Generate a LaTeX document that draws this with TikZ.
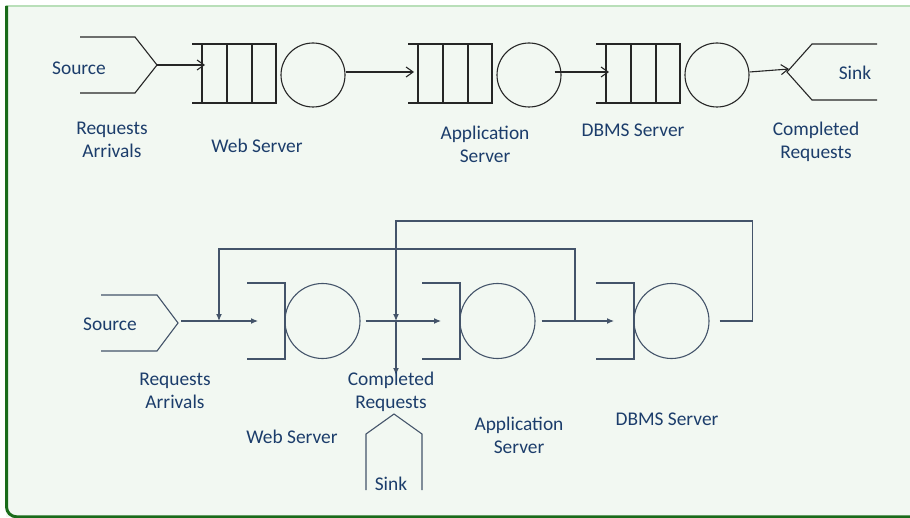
\documentclass[tikz,border=0pt]{standalone}
\usepackage{fontspec}
\setmainfont{Carlito}
\usetikzlibrary{arrows.meta,positioning}
\definecolor{txt}{HTML}{1C3D6B}
\definecolor{line}{HTML}{44546A}
\definecolor{panel}{HTML}{F2F8F2}
\definecolor{frame}{HTML}{1A6B1A}
\definecolor{rim}{HTML}{B9DFB9}

\begin{document}
\begin{tikzpicture}[x=0.5pt,y=-0.5pt,
  lbl/.style={text=txt,font=\fontsize{9.7}{11.5}\selectfont,align=center,inner sep=0pt},
  server/.style 2 args={draw=#1,circle,minimum size=#2,inner sep=0pt,line width=0.55pt},
  flow/.style={draw=#1,line width=0.55pt},
  open/.style={flow=#1,-{Straight Barb[length=3.5pt,width=5pt]}},
  fb/.style={flow=line,-{Latex[length=3.5pt,width=3pt]}},
]
  \useasboundingbox (0,0) rectangle (910,518);
  \fill[panel] (6,6) rectangle (910,517);
  \draw[rim,line width=0.8pt] (6,6) -- (910,6);
  \draw[frame,line width=1.5pt,rounded corners=5pt] (6.5,6) |- (911,516.8);

  % open network
  \draw[flow=black!85] (80,37) -- (135,37) -- (157,65) -- (135,93) -- (80,93);
  \coordinate (src1) at (157,65);
  \node[lbl] (srclbl1) at (79,68) {Source};
  \foreach \q/\n in {192/web,408/app,596/db}{
    \draw[flow=black!85] (\q,44) -| (\q+84,103) -- (\q,103);
    \foreach \v in {10,35,60} \draw[flow=black!85] (\q+\v,44) -- (\q+\v,103);
    \node[server={black!85}{32pt}] (\n1) at (\q+121,75) {};
  }
  \coordinate (webq1) at (205,65);
  \coordinate (appq1) at (414,72);
  \coordinate (dbq1) at (609,72);
  \coordinate (snk1) at (789,69);
  \draw[flow=black!85] (877,44) -- (812,44) -- (787,72) -- (812,100) -- (877,100);
  \draw[open=black!85] (src1) -- (webq1);
  \draw[open=black!85] (web1.east |- appq1) -- (appq1);
  \draw[open=black!85] ([xshift=-3.5pt]app1.east |- dbq1) -- (dbq1);
  \draw[open=black!85] ([yshift=1.5pt]db1.east) -- (snk1);
  \node[lbl] (snklbl1) at (855,73) {Sink};
  \node[lbl] (arr1) at (112,140) {Requests\\Arrivals};
  \node[lbl] (weblbl1) at (257,146) {Web Server};
  \node[lbl] (applbl1) at (485,144) {Application\\Server};
  \node[lbl] (dblbl1) at (633,130) {DBMS Server};
  \node[lbl] (done1) at (816,142) {Completed\\Requests};

  % closed network
  \draw[flow=line] (101,295) -- (157,295) -- (178,323) -- (157,351) -- (101,351);
  \coordinate (src2) at (181,321);
  \node[lbl] (srclbl2) at (110,324) {Source};
  \foreach \q/\n in {247/web,422/app,596/db}{
    \draw[flow=line] (\q,283) -| (\q+38,359) -- (\q,359);
    \node[server={line}{37.5pt}] (\n2) at (\q+75.5,321) {};
  }
  \coordinate (webq2) at (258,321);
  \coordinate (appq2) at (441,321);
  \coordinate (dbq2) at (614,321);
  \coordinate (join1) at (219,321);
  \coordinate (split1) at (575,321);
  \coordinate (join2) at (396,321);
  \coordinate (exit2) at (396,375);
  \draw[fb] (src2) -- (webq2);
  \draw[fb] ([xshift=2.5pt]web2.east) -- (appq2);
  \draw[fb] ([xshift=3pt]app2.east) -- (dbq2);
  \draw[fb] (split1) -- ++(0,-72) -| (join1);
  \draw[fb] ([xshift=5pt]db2.east) -| ++(33,-100) -| (join2);
  \draw[fb] (join2) -- (exit2);
  \draw[flow=line] (366,490) -- (366,434) -- (394,414) -- (422,434) -- (422,490);
  \node[lbl] (snklbl2) at (391,484) {Sink};
  \node[lbl] (arr2) at (175,391) {Requests\\Arrivals};
  \node[lbl] (done2) at (391,392) {Completed\\Requests};
  \node[lbl] (weblbl2) at (292,437) {Web Server};
  \node[lbl] (applbl2) at (519,435) {Application\\Server};
  \node[lbl] (dblbl2) at (667,419) {DBMS Server};
\end{tikzpicture}
\end{document}
